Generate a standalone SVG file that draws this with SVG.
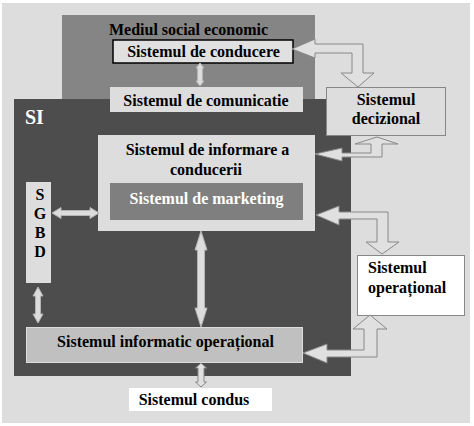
<svg xmlns="http://www.w3.org/2000/svg" width="474" height="426" viewBox="0 0 474 426">
<style>
text{font-family:"Liberation Serif","Times New Roman",serif;font-weight:bold;font-size:16px;fill:#000}
.c{text-anchor:middle}
.w{fill:#fff}
.blk{fill:#e0e0e0;stroke:#888;stroke-width:1}
.dbl{fill:#dcdcdc;stroke:#b4b4b4;stroke-width:1}
</style>
<rect x="0" y="0" width="474" height="426" fill="#fff"/>
<rect x="2" y="3" width="468" height="420" fill="#dddddd"/>
<g id="mediul">
<rect x="62" y="15" width="253" height="85" fill="#858585"/>
<text class="c" x="188.5" y="35">Mediul social economic</text>
</g>
<g id="si">
<rect x="14" y="99" width="337" height="277" fill="#4d4d4d"/>
<text class="w" x="25" y="124" style="font-size:20px">SI</text>
</g>
<g id="conducere">
<rect x="113" y="40" width="180" height="23" fill="#e0e0e0" stroke="#000" stroke-width="1.5"/>
<text class="c" x="203.5" y="57">Sistemul de conducere</text>
</g>
<g id="comunicatie">
<rect x="110" y="87" width="193" height="25" fill="#dddddd"/>
<text class="c" x="206" y="106">Sistemul de comunicatie</text>
</g>
<g id="decizional">
<rect x="326.5" y="87.5" width="119" height="48" fill="#dddddd" stroke="#888" stroke-width="1"/>
<text class="c" x="386" y="105">Sistemul</text>
<text class="c" x="386" y="124">decizional</text>
</g>
<g id="informare">
<rect x="98" y="135" width="217" height="96" fill="#dddddd"/>
<text class="c" x="207.5" y="155">Sistemul de informare a</text>
<text class="c" x="206" y="175">conducerii</text>
</g>
<g id="marketing">
<rect x="110" y="183" width="193" height="37" fill="#7f7f7f"/>
<text class="c w" x="206.5" y="204">Sistemul de marketing</text>
</g>
<g id="sgbd">
<rect x="26" y="182" width="25" height="101" fill="#dddddd"/>
<text class="c" x="40" y="200">S</text>
<text class="c" x="40" y="219">G</text>
<text class="c" x="40" y="238">B</text>
<text class="c" x="40" y="257">D</text>
</g>
<g id="informatic">
<rect x="26.5" y="327.5" width="276" height="35" fill="#c0c0c0" stroke="#dddddd" stroke-width="1"/>
<text class="c" x="165.5" y="347">Sistemul informatic operațional</text>
</g>
<g id="operational">
<rect x="357.5" y="255.5" width="107" height="60" fill="#fff" stroke="#888" stroke-width="1"/>
<text x="368" y="273">Sistemul</text>
<text x="368" y="293">operațional</text>
</g>
<g id="condus">
<rect x="129" y="388" width="143" height="23" fill="#fff"/>
<text class="c" x="194" y="405">Sistemul condus</text>
</g>
<g id="connectors">
<path class="blk" d="M292,49 L315,39 L315,44 L363,44 L363,73 L374,73 L358,87 L341,73 L352,73 L352,53 L315,53 L315,58 Z"/>
<path class="blk" d="M315,154 L342,148 L342,153 L371,153 L371,144 L355,144 L377,137 L398,144 L382,144 L382,157 L342,157 L342,161 Z"/>
<path class="blk" d="M316,215 L339,206 L339,212 L388,212 L388,242 L399,242 L382,254 L366,242 L377,242 L377,219 L339,219 L339,225 Z"/>
<path class="blk" d="M303,353 L327,344 L327,350 L364,350 L364,329 L353,329 L370,315 L387,329 L377,329 L377,357 L327,357 L327,363 Z"/>
<path class="dbl" d="M200,63 L204,68 L202.5,68 L202.5,81 L204,81 L200,86 L196,81 L197.5,81 L197.5,68 L196,68 Z"/>
<path class="dbl" d="M52,213 L61,207.5 L61,210.5 L90,210.5 L90,207.5 L99,213 L90,218.5 L90,215.5 L61,215.5 L61,218.5 Z"/>
<path class="dbl" d="M38,287 L43,296 L40.5,296 L40.5,314 L43,314 L38,323 L33,314 L35.5,314 L35.5,296 L33,296 Z"/>
<path class="dbl" d="M201,231 L207,250 L204.5,250 L204.5,308 L207,308 L201,327 L195,308 L197.5,308 L197.5,250 L195,250 Z"/>
<path class="blk" d="M201,363 L206.5,368 L204,368 L204,382 L206.5,382 L201,387 L195.5,382 L198,382 L198,368 L195.5,368 Z"/>
</g>
</svg>
